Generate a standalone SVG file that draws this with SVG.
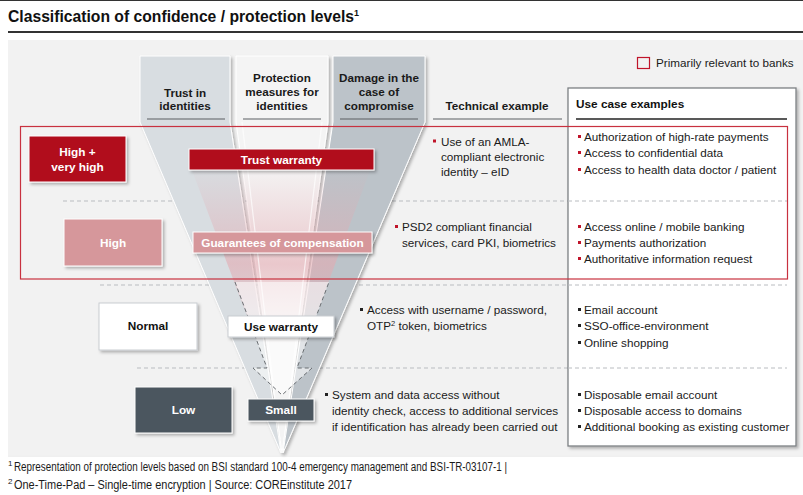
<svg xmlns="http://www.w3.org/2000/svg" width="803" height="495" viewBox="0 0 803 495">
<style>
text{font-family:"Liberation Sans",Arial,sans-serif;}
.b{font-weight:bold;font-size:11.8px;}
.h{font-weight:bold;font-size:11.7px;fill:#1a1a1a;text-anchor:middle;}
.t{font-size:11.7px;fill:#1a1a1a;}
.w{fill:#fff;text-anchor:middle;}
.k{fill:#111;text-anchor:middle;}
.ul{stroke:#5a5f63;stroke-width:1.2;}
.dash{stroke:#b9bcc0;stroke-width:1;stroke-dasharray:4 3;fill:none;}
.rb{fill:#c0142a;}
.kb{fill:#222;}
.fn{font-size:12.5px;fill:#1a1a1a;}
.sup{font-size:8px;fill:#1a1a1a;}
</style>
<defs>
<filter id="sh" x="-10%" y="-10%" width="130%" height="140%">
<feDropShadow dx="2" dy="2" stdDeviation="1.5" flood-color="#000" flood-opacity="0.28"/>
</filter>
<linearGradient id="pink" x1="0" y1="0" x2="0" y2="1">
<stop offset="0" stop-color="#e3aab1" stop-opacity="0"/>
<stop offset="0.55" stop-color="#e3aab1" stop-opacity="0.6"/>
<stop offset="1" stop-color="#e3aab1" stop-opacity="0"/>
</linearGradient>
</defs>
<rect width="803" height="495" fill="#fff"/>
<line x1="0" y1="0.5" x2="803" y2="0.5" stroke="#333" stroke-width="1"/>
<g id="title">
<text x="8" y="22" font-weight="bold" font-size="15.7" fill="#111">Classification of confidence / protection levels<tspan font-size="9" dy="-6">1</tspan></text>
<line x1="8" y1="32" x2="803" y2="32" stroke="#333" stroke-width="2"/>
</g>
<rect id="panel" x="8" y="40" width="795" height="415" fill="#f2f2f2"/>
<line x1="8" y1="456" x2="803" y2="456" stroke="#e2e2e2" stroke-width="1"/>

<g id="separators">
<line class="dash" x1="63" y1="201" x2="787" y2="201"/>
<line class="dash" x1="100" y1="285" x2="787" y2="285"/>
<line class="dash" x1="137" y1="368" x2="787" y2="368"/>
</g>

<g id="funnel">
<polygon points="140,56 230,56 230,122 281,453 140,122" fill="#d8dde1" stroke="#fff" stroke-width="1" filter="url(#sh)"/>
<polygon points="236,56 328,56 328,122 282,453 236,122" fill="#f4f4f4" stroke="#fff" stroke-width="1" filter="url(#sh)"/>
<polygon points="333,56 425,56 425,122 283,453 333,122" fill="#bcc3c9" stroke="#fff" stroke-width="1" filter="url(#sh)"/>
<polygon points="190,165 372,165 305,345 258,345" fill="url(#pink)"/>
<line x1="242" y1="122" x2="281" y2="450" stroke="#fff" stroke-width="1.2" opacity="0.7"/>
<line x1="322" y1="122" x2="283" y2="450" stroke="#fff" stroke-width="1.2" opacity="0.7"/>
</g>

<g id="col-trust">
<text class="h" x="185" y="97">Trust in</text>
<text class="h" x="185" y="110">identities</text>
<line class="ul" x1="147" y1="119" x2="225" y2="119"/>
</g>
<g id="col-protection">
<text class="h" x="282" y="82">Protection</text>
<text class="h" x="282" y="96">measures for</text>
<text class="h" x="282" y="110">identities</text>
<line class="ul" x1="243" y1="119" x2="321" y2="119"/>
</g>
<g id="col-damage">
<text class="h" x="379" y="82">Damage in the</text>
<text class="h" x="379" y="96">case of</text>
<text class="h" x="379" y="110">compromise</text>
<line class="ul" x1="340" y1="119" x2="418" y2="119"/>
</g>
<g id="col-technical">
<text class="h" x="497" y="110">Technical example</text>
<line class="ul" x1="433" y1="119" x2="562" y2="119"/>
</g>

<g id="usecase-box">
<rect x="568" y="88" width="228" height="358" fill="#fff" stroke="#7d8184" stroke-width="1.3" filter="url(#sh)"/>
<text x="576" y="108" font-weight="bold" font-size="11.8" fill="#111">Use case examples</text>
<line x1="576" y1="119" x2="787" y2="119" stroke="#222" stroke-width="1.5"/>
</g>
<g id="separators-box">
<line class="dash" x1="568" y1="201" x2="787" y2="201"/>
<line class="dash" x1="568" y1="285" x2="787" y2="285"/>
<line class="dash" x1="568" y1="368" x2="787" y2="368"/>
</g>

<g id="legend">
<rect x="637.5" y="57.5" width="12" height="11" fill="none" stroke="#c0142a" stroke-width="1.2"/>
<text x="656" y="67" class="t">Primarily relevant to banks</text>
</g>

<rect id="banks-frame" x="20.5" y="126.5" width="767" height="152.5" fill="none" stroke="#c8313f" stroke-width="1.2"/>

<g id="connectors">
<path d="M235,282 L267,368 L253,368 L282,395 L312,368 L297,368 L329,282" fill="#fff" fill-opacity="0.55" stroke="#6a6e72" stroke-width="1" stroke-dasharray="4 3"/>
</g>

<g id="level-high-very-high">
<rect x="29" y="136" width="97" height="46" fill="#b10c1e" stroke="#fff" stroke-width="1" filter="url(#sh)"/>
<text class="b w" x="77.5" y="156">High +</text>
<text class="b w" x="77.5" y="171">very high</text>
</g>
<g id="level-high">
<rect x="64" y="219" width="98" height="47" fill="#d6979b" stroke="#fff" stroke-width="1" filter="url(#sh)"/>
<text class="b w" x="113" y="247">High</text>
</g>
<g id="level-normal">
<rect x="99" y="303" width="98" height="47" fill="#fff" stroke="#c9cdd1" stroke-width="1" filter="url(#sh)"/>
<text class="b k" x="148" y="330">Normal</text>
</g>
<g id="level-low">
<rect x="135" y="387" width="97" height="46" fill="#4c565e" stroke="#fff" stroke-width="1" filter="url(#sh)"/>
<text class="b w" x="183.5" y="414">Low</text>
</g>

<g id="trust-warranty">
<rect x="189" y="149" width="185" height="21" fill="#b10c1e" stroke="#fff" stroke-width="1" filter="url(#sh)"/>
<text class="b w" x="281.5" y="164">Trust warranty</text>
</g>
<g id="guarantees">
<rect x="193" y="232" width="179" height="21" fill="#d6979b" stroke="#fff" stroke-width="1" filter="url(#sh)"/>
<text class="b w" x="282.5" y="247">Guarantees of compensation</text>
</g>
<g id="use-warranty">
<rect x="228" y="316" width="106" height="21" fill="#fff" stroke="#c9cdd1" stroke-width="1" filter="url(#sh)"/>
<text class="b k" x="281" y="331">Use warranty</text>
</g>
<g id="small">
<rect x="248" y="399" width="66" height="22" fill="#4c565e" stroke="#fff" stroke-width="1" filter="url(#sh)"/>
<text class="b w" x="281" y="414">Small</text>
</g>

<g id="tech-row1">
<rect class="rb" x="433" y="139.5" width="3" height="3"/>
<text class="t" x="441" y="146">Use of an AMLA-</text>
<text class="t" x="441" y="161">compliant electronic</text>
<text class="t" x="441" y="176">identity – eID</text>
</g>
<g id="tech-row2">
<rect class="rb" x="395" y="225" width="3" height="3"/>
<text class="t" x="402" y="231">PSD2 compliant financial</text>
<text class="t" x="402" y="247">services, card PKI, biometrics</text>
</g>
<g id="tech-row3">
<rect class="kb" x="360" y="308" width="3" height="3"/>
<text class="t" x="367" y="314">Access with username / password,</text>
<text class="t" x="367" y="330">OTP<tspan style="font-size:7.5px" dy="-4">2</tspan><tspan dy="4"> token, biometrics</tspan></text>
</g>
<g id="tech-row4">
<rect class="kb" x="325" y="393" width="3" height="3"/>
<text class="t" x="332" y="399">System and data access without</text>
<text class="t" x="332" y="415">identity check, access to additional services</text>
<text class="t" x="332" y="431">if identification has already been carried out</text>
</g>

<g id="use-row1">
<rect class="rb" x="578" y="135" width="3" height="3"/>
<rect class="rb" x="578" y="151" width="3" height="3"/>
<rect class="rb" x="578" y="168" width="3" height="3"/>
<text class="t" x="584" y="141">Authorization of high-rate payments</text>
<text class="t" x="584" y="157">Access to confidential data</text>
<text class="t" x="584" y="174">Access to health data doctor / patient</text>
</g>
<g id="use-row2">
<rect class="rb" x="578" y="225" width="3" height="3"/>
<rect class="rb" x="578" y="241" width="3" height="3"/>
<rect class="rb" x="578" y="257" width="3" height="3"/>
<text class="t" x="584" y="231">Access online / mobile banking</text>
<text class="t" x="584" y="247">Payments authorization</text>
<text class="t" x="584" y="263">Authoritative information request</text>
</g>
<g id="use-row3">
<rect class="kb" x="578" y="308" width="3" height="3"/>
<rect class="kb" x="578" y="324" width="3" height="3"/>
<rect class="kb" x="578" y="341" width="3" height="3"/>
<text class="t" x="584" y="314">Email account</text>
<text class="t" x="584" y="330">SSO-office-environment</text>
<text class="t" x="584" y="347">Online shopping</text>
</g>
<g id="use-row4">
<rect class="kb" x="578" y="393" width="3" height="3"/>
<rect class="kb" x="578" y="409" width="3" height="3"/>
<rect class="kb" x="578" y="425" width="3" height="3"/>
<text class="t" x="584" y="399">Disposable email account</text>
<text class="t" x="584" y="415">Disposable access to domains</text>
<text class="t" x="584" y="431">Additional booking as existing customer</text>
</g>

<g id="footnotes">
<text class="sup" x="8" y="466">1</text>
<text class="fn" x="14" y="471" textLength="493" lengthAdjust="spacingAndGlyphs">Representation of protection levels based on BSI standard 100-4 emergency management and BSI-TR-03107-1 |</text>
<text class="sup" x="8" y="484">2</text>
<text class="fn" x="14" y="489" textLength="338" lengthAdjust="spacingAndGlyphs">One-Time-Pad – Single-time encryption | Source: COREinstitute 2017</text>
</g>
</svg>
